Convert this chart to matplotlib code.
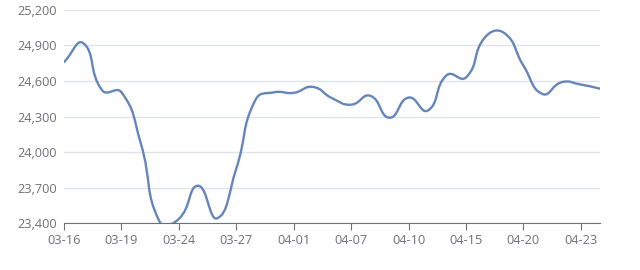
import matplotlib
matplotlib.use("Agg")
import matplotlib.pyplot as plt
from matplotlib.path import Path
from matplotlib.patches import PathPatch
from matplotlib.ticker import FuncFormatter

# Trading days shown on the category axis
dates = ["03-16", "03-17", "03-18", "03-19", "03-20", "03-23", "03-24", "03-25",
         "03-26", "03-27", "03-30", "03-31", "04-01", "04-02", "04-03", "04-07",
         "04-08", "04-09", "04-10", "04-13", "04-14", "04-15", "04-16", "04-17",
         "04-20", "04-21", "04-22", "04-23", "04-24"]

# Price values
prices = [24760, 24920, 24520, 24505, 24080, 23410, 23435, 23715,
          23440, 23860, 24440, 24505, 24500, 24550, 24455, 24400,
          24475, 24290, 24460, 24350, 24650, 24630, 24970, 25005,
          24730, 24490, 24590, 24570, 24535]

y_ticks = [23400, 23700, 24000, 24300, 24600, 24900, 25200]

line_color = "#6585bb"
text_color = "#6e7079"


# Smooth bezier path through the points (like echarts smooth line)
def smooth_path(xs, ys, smooth=0.5, yscale=1.0):
    n = len(xs)
    pts = [(x, y * yscale) for x, y in zip(xs, ys)]
    cps = []
    for i in range(n):
        x, y = pts[i]
        px, py = pts[i - 1] if i > 0 else pts[i]
        nx, ny = pts[i + 1] if i < n - 1 else pts[i]
        vx, vy = nx - px, ny - py
        d0 = ((x - px) ** 2 + (y - py) ** 2) ** 0.5
        d1 = ((nx - x) ** 2 + (ny - y) ** 2) ** 0.5
        r = d1 / (d0 + d1) if d0 + d1 > 0 else 0.5
        c0 = (x - vx * smooth * (1 - r), y - vy * smooth * (1 - r))
        c1 = (x + vx * smooth * r, y + vy * smooth * r)
        cps.append((c0, c1))
    verts = [pts[0]]
    codes = [Path.MOVETO]
    for i in range(n - 1):
        verts += [cps[i][1], cps[i + 1][0], pts[i + 1]]
        codes += [Path.CURVE4] * 3
    verts = [(vx, vy / yscale) for vx, vy in verts]
    return Path(verts, codes)


fig = plt.figure(figsize=(6.4, 2.7), dpi=100)
ax = fig.add_axes([0.1, 0.174, 0.8375, 0.789])

x = list(range(len(dates)))
# y scaled so that smoothing works in roughly pixel proportions
yscale = (213 / 1800) / 19.14
path = smooth_path(x, prices, 0.5, yscale)
ax.add_patch(PathPatch(path, facecolor="none", edgecolor=line_color, lw=1.7,
                       capstyle="round", joinstyle="round", zorder=3))
ax.plot(x, prices, alpha=0)

ax.set_xlim(0, len(dates) - 1)
ax.set_ylim(23400, 25200)
ax.set_yticks(y_ticks)
ax.yaxis.set_major_formatter(FuncFormatter(lambda v, p: f"{int(v):,}"))
ax.set_xticks(x[::3])
ax.set_xticklabels(dates[::3])

ax.grid(axis="y", color="#e0e3e8", lw=1)
ax.set_axisbelow(True)
for s in ["top", "right", "left"]:
    ax.spines[s].set_visible(False)
ax.spines["bottom"].set_color("#6e7079")
ax.tick_params(axis="y", length=0, pad=5, labelsize=9.2, labelcolor=text_color)
ax.tick_params(axis="x", length=5, color="#6e7079", pad=3, labelsize=9.2,
               labelcolor=text_color)
for lab in ax.get_xticklabels() + ax.get_yticklabels():
    lab.set_fontfamily(["Open Sans", "DejaVu Sans"])

fig.savefig("out.png", dpi=100)
